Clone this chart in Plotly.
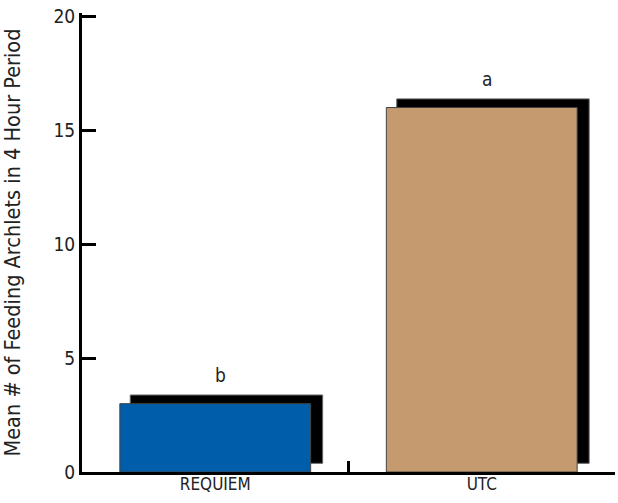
import plotly.graph_objects as go

categories = ["REQUIEM", "UTC"]
values = [3.0, 16.0]
letters = ["b", "a"]
colors = ["#005DAA", "#C49A6E"]
y_ticks = [0, 5, 10, 15, 20]

FONT = "DejaVu Sans Condensed, Liberation Sans Narrow, sans-serif"
pos = [i + 0.5 for i in range(len(categories))]
dx = 0.042   # shadow offset (x units)
lift = 0.38  # shadow lift (y units)

fig = go.Figure()
# shadow bars
fig.add_trace(go.Bar(
    x=[p + dx for p in pos], y=values, base=[lift] * len(values),
    width=0.722, marker=dict(color="black", line=dict(color="#666", width=1)),
    showlegend=False, hoverinfo="skip"))
# front bars
fig.add_trace(go.Bar(
    x=pos, y=values, width=0.716,
    marker=dict(color=colors, line=dict(color="#444", width=1)),
    showlegend=False))
# dummy trace for category labels on secondary x axis
fig.add_trace(go.Scatter(x=pos, y=[0, 0], xaxis="x2", mode="markers",
                         marker=dict(opacity=0), showlegend=False, hoverinfo="skip"))

for p, v, t in zip(pos, values, letters):
    fig.add_annotation(x=p + 0.02, y=v + 1.25, text=t, showarrow=False,
                       font=dict(family=FONT, size=19, color="#222"))

fig.update_layout(
    width=618, height=503,
    margin=dict(l=82, r=3, t=13, b=31),
    paper_bgcolor="white", plot_bgcolor="white",
    barmode="overlay",
    font=dict(family=FONT, size=18, color="#222"),
    xaxis=dict(range=[0, 2], tickvals=[0, 1, 2], ticktext=["", "", ""],
               ticks="inside", ticklen=11, tickwidth=3, tickcolor="black",
               showline=True, linecolor="black", linewidth=3, automargin=False,
               showgrid=False, zeroline=False, fixedrange=True),
    xaxis2=dict(range=[0, 2], overlaying="x", side="bottom", matches=None,
                tickvals=pos, ticktext=categories, ticks="", automargin=False,
                showline=False, showgrid=False, zeroline=False,
                tickfont=dict(family=FONT, size=17, color="#222")),
    yaxis=dict(range=[0, 20.15], tickvals=y_ticks, ticks="inside", ticklen=14,
               tickwidth=3, tickcolor="black", showline=True, linecolor="black",
               linewidth=3, showgrid=False, zeroline=False, automargin=False,
               ticklabeloverflow="allow",
               tickfont=dict(family=FONT, size=19, color="#222"),
               title=dict(text="Mean # of Feeding Archlets in 4 Hour Period",
                          font=dict(family=FONT, size=21.5, color="#222"), standoff=29)),
)

fig.write_html("out.html", config={"displayModeBar": False},
               post_script="document.body.style.margin='0';document.body.style.overflow='hidden';")
